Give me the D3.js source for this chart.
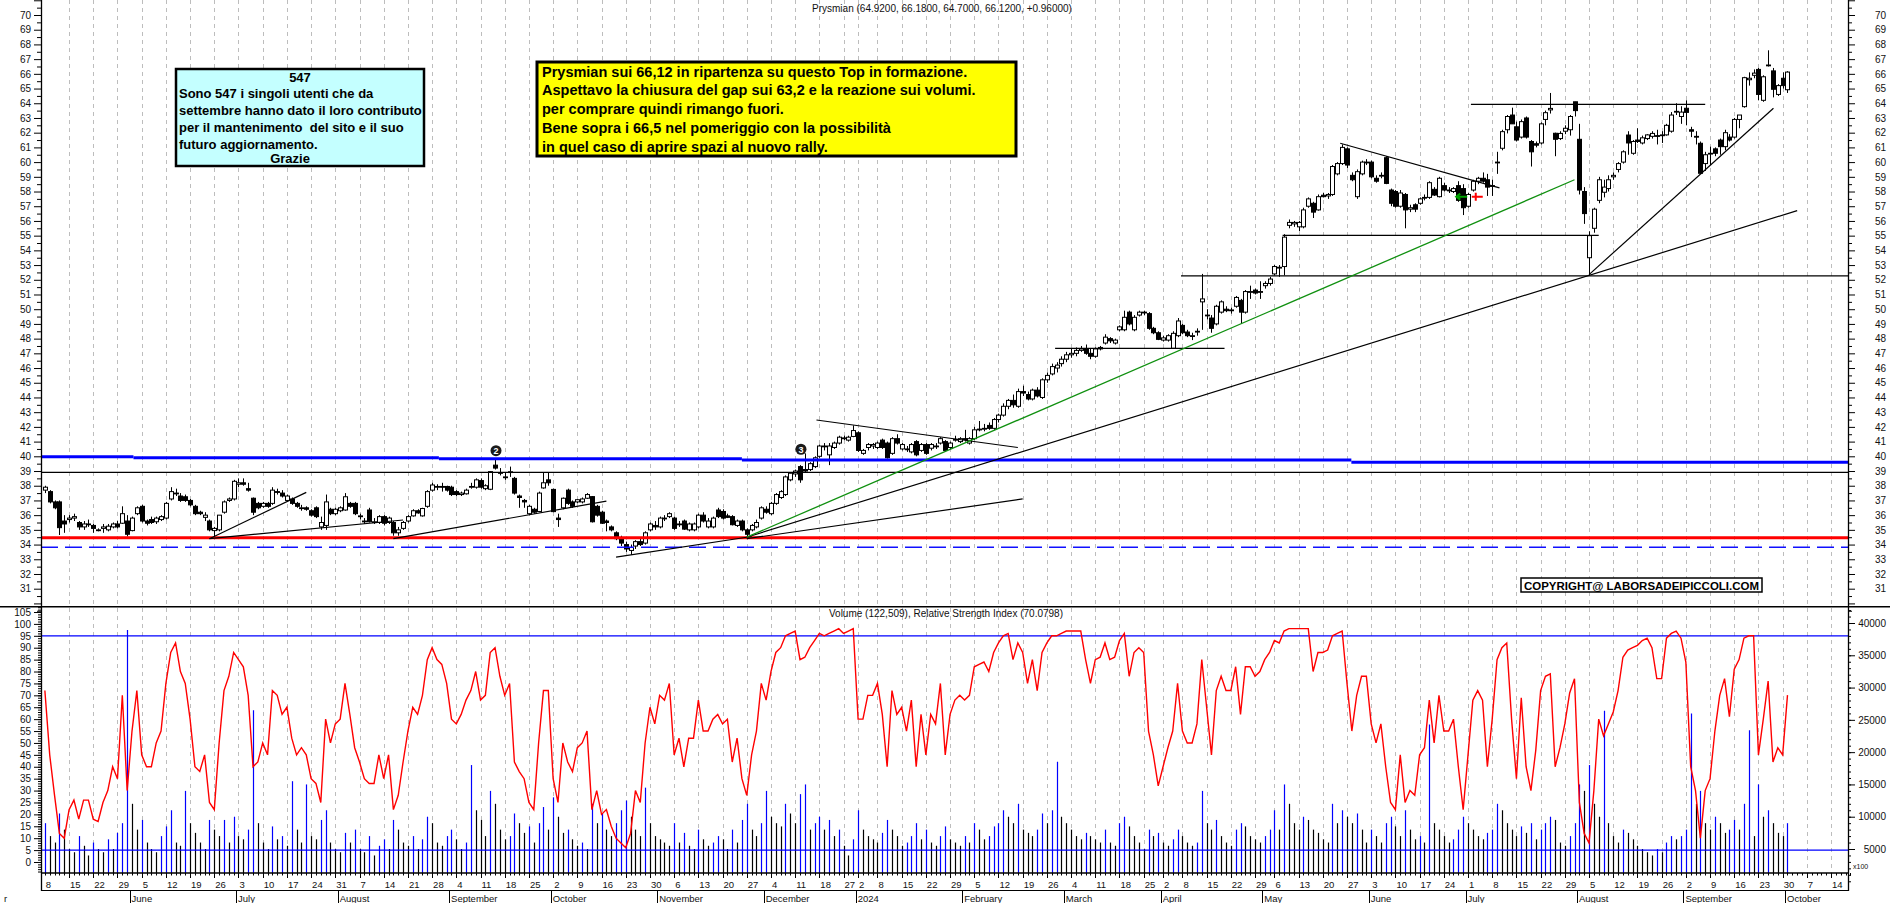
<!DOCTYPE html>
<html><head><meta charset="utf-8">
<script src="https://cdn.jsdelivr.net/npm/d3@7"></script>
<style>
body{margin:0;background:#fff;}
svg{display:block;font-family:"Liberation Sans",Arial,sans-serif;}
</style></head><body>
<svg id="chart" width="1890" height="903"></svg>
<script>
// daily candles, 8 May 2023 .. 1 Oct 2024
var opens = [
37.7,37.6,36.9,36.9,35.6,35.7,35.8,35.5,35.2,35.4, 35.3,35.0,35.1,35.0,35.2,35.4,35.45,35.6,34.95,36.1,
36.6,35.6,35.7,35.55,35.7,35.8,37.1,37.5,37.3,37.25, 37.0,36.6,36.2,35.85,35.6,34.95,35.0,36.2,37.0,37.1,
38.1,38.2,37.8,37.15,36.8,36.6,36.8,36.8,37.6,37.5, 37.0,37.1,36.8,36.45,36.5,36.3,36.5,35.2,35.3,36.4,
36.1,36.3,36.35,36.8,36.8,35.9,35.6,36.35,35.5,35.5, 35.9,35.5,35.5,34.8,35.1,35.6,35.95,36.3,35.95,36.6,
37.7,37.9,37.95,37.95,37.9,37.6,37.4,37.45,37.9,37.9, 38.35,37.8,37.76,39.4,38.9,38.6,38.9,38.5,37.3,37.0,
36.1,36.4,36.25,37.85,38.4,37.75,35.8,36.5,37.7,36.9, 36.9,36.9,37.15,37.26,36.6,36.2,35.6,35.2,34.8,34.4,
34.0,33.6,33.9,34.2,34.1,35.0,35.3,35.2,35.8,35.9, 35.8,35.4,35.6,35.0,35.0,35.2,36.0,35.2,35.2,36.35,
36.25,35.95,35.9,35.3,35.6,35.0,35.0,35.2,35.8,36.4, 36.1,36.8,37.2,37.4,38.4,38.8,39.3,39.1,39.1,39.3,
40.0,40.7,40.1,40.6,40.9,41.25,41.1,41.35,41.6,40.2, 40.6,40.7,40.6,41.1,40.9,40.2,41.2,40.5,40.5,40.3,
41.0,40.4,40.8,40.55,40.7,40.9,41.0,40.6,41.1,41.0, 41.2,40.9,41.2,41.8,41.85,42.1,41.9,42.5,42.8,43.4,
43.8,43.4,44.4,44.2,43.9,44.5,44.0,45.2,45.6,46.0, 46.3,46.6,46.9,47.0,47.2,47.3,47.0,46.8,47.3,47.7,
48.0,47.7,48.6,48.6,49.8,48.6,49.6,49.8,49.7,48.7, 48.4,47.9,47.9,47.34,48.2,48.9,48.45,48.2,48.5,50.5,
49.6,49.4,49.0,49.8,50.0,49.9,50.2,50.6,49.8,51.2, 51.3,51.2,51.6,51.75,52.4,52.8,52.9,55.7,55.8,55.6,
55.6,57.0,57.2,56.75,57.75,57.7,57.8,59.2,59.9,60.9, 59.1,57.65,59.2,60.0,60.0,58.9,59.1,60.3,58.1,58.0,
57.0,57.8,56.8,57.1,57.2,57.6,57.6,58.15,57.65,58.4, 58.1,58.0,58.4,58.2,57.0,58.1,58.7,58.9,58.8,58.4,
60.0,60.94,62.2,63.2,62.4,61.7,63.0,61.4,61.25,61.3, 62.9,63.55,61.96,61.6,62.1,62.2,64.1,61.55,58.0,53.5,
55.5,57.4,57.95,58.2,59.0,59.5,60.0,61.84,60.6,61.5, 61.3,61.6,61.75,61.8,61.85,61.85,62.1,63.4,63.1,63.66,
62.2,61.75,61.28,59.9,60.6,60.9,61.5,61.05,61.7,61.7, 62.9,63.77,65.6,65.9,66.3,64.2,66.55,66.2,64.6,65.7,
64.92];
var highs = [
38.0,37.7,37.0,37.0,36.0,36.0,36.1,35.6,35.6,35.7, 35.4,35.1,35.4,35.4,35.5,35.6,36.6,36.0,35.9,36.6,
36.7,35.7,35.9,35.9,36.0,36.9,37.9,37.8,37.5,37.4, 37.1,36.7,36.3,36.2,35.7,35.2,36.0,37.0,37.2,38.4,
38.5,38.5,38.2,37.2,36.9,36.9,36.9,37.9,37.8,37.7, 37.4,37.2,36.9,36.7,36.6,36.4,36.6,35.9,37.4,36.5,
36.5,36.6,37.5,36.9,36.9,36.1,35.8,36.5,35.8,36.0, 36.0,35.9,35.6,35.2,35.6,36.0,36.4,36.4,36.5,37.7,
38.2,38.1,38.2,38.0,38.0,37.7,37.6,37.8,38.2,38.5, 38.5,38.1,39.0,39.75,39.2,38.9,39.3,38.6,37.4,37.1,
36.7,36.5,37.6,38.9,38.9,37.8,36.1,37.2,37.8,37.0, 37.1,37.2,37.5,37.3,36.7,36.3,35.7,35.3,34.9,34.6,
34.2,34.0,34.3,34.5,34.9,35.5,35.6,35.9,36.0,36.2, 35.9,35.6,35.7,35.5,35.5,36.1,36.2,35.8,35.9,36.5,
36.4,36.1,36.0,35.7,35.7,35.1,35.4,35.7,36.6,36.6, 36.9,37.5,37.7,38.7,38.9,39.1,39.4,40.2,39.6,40.0,
40.8,40.9,40.9,41.0,41.4,41.4,41.4,42.1,41.7,40.5, 40.9,40.9,41.0,41.2,41.0,41.3,41.5,40.9,40.7,40.9,
41.1,40.9,40.9,40.9,40.9,41.3,41.1,41.0,41.4,41.3, 41.8,41.3,42.0,42.4,42.2,42.3,42.6,42.9,43.6,43.9,
44.2,44.6,44.8,44.4,44.6,44.7,45.3,45.7,46.3,46.4, 46.8,47.1,47.3,47.4,47.5,47.6,47.3,47.4,47.5,48.3,
48.1,48.0,48.9,49.9,49.9,49.6,49.9,49.9,49.8,48.8, 48.5,48.2,48.3,48.5,49.4,49.0,48.6,48.4,48.7,52.4,
50.0,49.6,50.3,50.6,50.2,50.1,50.9,50.7,51.3,51.6, 51.4,51.9,51.9,52.2,53.0,53.0,55.1,56.1,56.0,56.0,
56.9,57.6,57.3,57.8,57.9,57.9,59.8,60.0,61.2,61.0, 59.3,59.5,60.1,60.2,60.1,59.1,59.3,60.4,58.2,58.1,
58.1,57.9,57.1,57.2,57.6,57.8,58.7,58.3,59.0,58.6, 58.3,58.3,58.7,58.5,57.9,58.8,59.0,59.3,59.2,58.8,
60.7,62.2,63.2,63.7,62.75,62.9,63.1,61.5,61.4,62.7, 63.5,64.7,62.0,62.1,62.5,63.2,64.1,62.6,58.3,55.3,
56.9,59.0,58.8,59.1,59.3,60.0,60.8,62.1,61.5,62.3, 61.8,61.9,62.1,62.2,62.1,62.6,63.4,64.0,63.8,64.2,
62.4,62.1,61.4,60.7,61.05,61.0,61.6,62.2,61.9,63.0, 63.2,65.8,66.1,66.3,66.4,65.9,67.6,66.4,65.3,66.1,
66.18];
var lows = [
37.5,36.8,36.4,34.65,34.8,35.5,35.6,35.0,35.0,35.2, 34.8,34.9,34.8,34.9,35.1,35.1,35.4,34.55,34.9,36.0,
35.5,35.3,35.4,35.4,35.6,35.7,37.0,37.3,36.9,36.9, 36.6,36.0,36.0,35.6,34.9,34.5,34.9,36.1,36.9,37.0,
37.9,38.0,37.6,36.0,36.4,36.5,36.5,36.7,37.4,37.2, 36.9,36.7,36.5,36.3,36.3,35.9,35.8,35.0,35.0,36.0,
36.0,36.2,36.3,36.5,36.0,35.7,35.4,35.5,35.4,35.4, 35.3,35.4,34.6,34.6,35.0,35.5,35.9,36.1,35.9,36.5,
37.6,37.7,37.6,37.6,37.3,37.3,37.3,37.4,37.8,37.8, 37.8,37.7,37.7,39.1,38.7,38.4,38.6,37.4,36.5,36.5,
36.0,36.1,36.2,37.8,38.0,36.2,35.2,36.4,36.7,36.5, 36.8,36.8,37.1,35.5,35.9,35.4,34.9,34.9,34.3,33.9,
33.5,33.3,33.7,33.9,34.0,34.9,35.0,35.1,35.6,35.8, 35.0,35.2,35.0,34.9,34.9,35.1,35.5,35.1,35.1,35.8,
35.7,35.8,35.3,35.2,34.9,34.55,34.9,35.1,35.7,36.1, 36.0,36.7,37.1,37.3,38.3,38.6,38.2,38.9,39.0,39.2,
39.9,40.4,39.4,40.5,40.8,41.1,41.0,41.3,40.3,40.1, 40.4,40.5,40.5,40.5,39.85,40.1,40.8,40.4,40.3,40.2,
40.0,40.3,40.1,40.4,40.5,40.8,40.3,40.5,41.0,40.9, 41.0,40.8,41.1,41.7,41.7,41.8,41.8,42.3,42.7,43.2,
43.3,43.3,44.1,43.8,43.8,44.0,43.9,45.0,45.5,45.7, 46.1,46.4,46.7,46.8,47.1,46.9,46.6,46.7,47.2,47.6,
47.7,47.6,48.5,48.5,48.9,48.5,49.5,49.6,48.6,48.3, 47.9,47.8,47.8,47.3,48.1,48.3,48.1,47.9,48.2,48.6,
49.3,48.4,48.9,49.7,49.8,49.7,50.1,49.0,49.7,50.7, 51.0,50.7,51.4,51.6,52.3,52.2,52.3,55.5,55.6,55.3,
55.5,56.9,56.2,56.7,57.6,57.5,57.7,59.1,59.8,59.6, 58.7,57.5,59.1,59.8,58.9,58.6,58.9,58.5,57.0,56.9,
56.9,55.5,56.6,56.6,57.1,57.4,57.5,57.7,57.6,58.0, 57.9,57.9,57.3,56.4,56.9,58.0,58.5,58.6,57.7,57.7,
59.2,60.8,61.95,62.6,61.4,61.6,61.6,59.7,61.0,61.2, 62.5,63.3,60.4,61.5,61.9,61.8,63.1,57.8,55.8,52.3,
55.2,57.2,57.6,58.0,58.8,59.3,59.9,60.5,60.5,61.3, 61.2,61.5,61.6,61.2,61.3,61.8,62.0,63.2,62.6,62.5,
61.7,61.2,59.2,59.4,59.8,60.4,60.5,60.8,61.4,61.6, 62.3,63.7,65.2,65.7,64.2,64.1,66.5,64.4,64.5,65.0,
64.70];
var closes = [
37.9,36.9,36.5,35.15,35.4,35.8,35.9,35.2,35.4,35.4, 35.1,35.0,35.2,35.25,35.4,35.2,36.1,34.7,35.8,36.5,
35.6,35.45,35.5,35.8,35.9,36.8,37.6,37.5,37.0,37.0, 36.7,36.1,36.1,36.0,35.0,35.1,36.0,36.9,37.1,38.3,
38.2,38.1,37.7,36.2,36.5,36.8,36.6,37.7,37.55,37.3, 37.3,36.8,36.6,36.5,36.4,36.0,35.9,35.5,36.9,36.1,
36.4,36.5,37.25,36.6,36.1,35.95,35.6,35.55,35.55,35.9, 35.45,35.8,34.8,35.0,35.5,35.9,36.3,36.15,36.45,37.6,
38.05,37.95,37.9,37.7,37.4,37.4,37.5,37.7,37.95,38.4, 37.9,38.0,38.96,39.2,38.85,38.6,38.95,37.5,37.2,36.9,
36.6,36.2,37.5,38.2,38.2,36.24,35.7,37.15,36.8,36.6, 37.05,37.1,37.4,35.55,36.0,35.45,35.5,35.0,34.4,34.1,
33.7,33.8,34.2,34.0,34.8,35.4,35.2,35.8,35.75,36.1, 35.1,35.4,35.05,35.4,35.4,36.0,35.6,35.6,35.8,35.9,
35.8,35.85,35.35,35.6,35.0,34.7,35.3,35.5,36.5,36.2, 36.8,37.4,37.6,38.6,38.85,39.0,38.4,39.0,39.5,39.9,
40.7,40.65,40.7,40.9,41.3,41.2,41.3,41.75,40.4,40.4, 40.8,40.8,40.9,40.6,39.9,41.2,40.9,40.8,40.45,40.8,
40.1,40.8,40.2,40.8,40.7,41.2,40.4,40.9,41.15,41.2, 41.15,41.2,41.8,41.85,41.9,41.9,42.5,42.8,43.4,43.8,
43.5,44.4,44.3,43.9,44.5,44.1,45.2,45.5,46.1,46.2, 46.6,46.9,47.0,47.2,47.3,47.0,46.8,47.3,47.4,48.1,
47.85,47.9,48.8,49.45,49.0,49.45,49.8,49.75,48.7,48.4, 47.95,48.05,48.2,48.36,49.2,48.4,48.2,48.2,48.5,50.7,
49.6,48.7,50.2,50.5,49.9,49.95,50.8,49.8,51.2,51.2, 51.1,51.2,51.75,52.05,52.9,52.85,54.9,55.9,55.9,55.9,
56.75,57.5,56.6,57.65,57.65,57.8,59.7,59.9,61.0,59.8, 58.8,59.35,60.0,60.0,59.0,58.7,59.1,58.55,57.2,57.0,
57.9,56.75,56.9,56.8,57.5,57.6,58.6,57.76,58.9,58.1, 58.1,58.2,57.4,56.9,57.8,58.7,58.9,58.7,58.3,58.4,
60.0,62.07,63.1,62.6,61.5,62.75,61.7,60.7,61.15,62.6, 63.36,63.65,61.55,61.95,62.3,63.1,63.5,58.1,56.5,55.0,
56.8,58.8,58.3,58.8,59.1,59.9,60.7,61.3,61.4,61.4, 61.65,61.85,61.95,61.75,61.85,62.5,63.2,63.45,63.4,63.38,
62.1,61.7,59.24,60.5,60.6,60.6,61.05,62.0,61.5,62.9, 63.2,65.74,65.7,66.05,64.6,65.8,66.6,64.95,65.2,65.2,
66.12];
var volumes = [
9000,7000,6000,10500,8000,5000,4500,7000,5500,4000, 6000,5000,4500,6500,5000,7500,9000,38900,12000,8000,
9500,6000,5000,4500,7000,8500,11000,6000,5500,14000, 9000,7500,6000,5000,9500,8000,7000,9500,6000,10000,
7000,6500,8000,26500,9000,6000,5000,8500,6500,7000, 5500,15500,8000,6000,15000,7000,6500,9500,11000,6000,
5000,4500,7500,6000,8000,5000,4500,7000,4000,5500, 6500,5000,9500,8000,6000,5500,7000,5000,6500,10000,
9000,6000,5500,7000,8000,6500,5000,6000,18000,11000, 9500,7000,14000,12000,8000,6500,7000,10500,9000,7500,
8500,6000,9000,11500,8000,13000,10000,7500,8000,6500, 5500,6000,5000,12000,9000,10500,8000,7000,9000,11000,
12500,10000,8000,7000,14500,9000,7000,6500,6000,5500, 9000,6000,7500,5500,5000,8000,6500,5500,6000,7000,
6500,5000,8000,6000,9500,12000,8000,7000,9000,14000, 10000,9000,8500,12000,10500,9000,13500,15000,8000,9000,
10000,8000,9500,7000,8000,5500,4000,6500,11000,8000, 7000,6500,6000,7500,9500,8000,7000,5500,6000,7000,
9000,6500,8000,6000,5500,7000,8500,6500,6000,5500, 7000,6000,9000,8000,6500,7000,8500,9000,11000,10000,
9000,12000,8000,7500,7000,8000,10500,9000,11000,18500, 10000,9000,8000,7000,6500,7500,7000,6500,6000,8000,
6000,5500,9000,10000,8500,7000,6000,5000,8000,7000, 7500,6000,5500,6500,8000,7000,6000,5500,6000,14000,
9000,8000,9500,7000,6000,5500,8000,9000,8500,7000, 6500,6000,7000,8000,11000,8000,15000,12000,9000,8000,
10000,9500,8000,7500,6500,6000,12000,9000,11000,10000, 9000,10500,8000,6000,8000,7000,6000,9000,10000,8500,
7000,11000,8000,6500,7000,6000,24300,9000,8000,7000, 6000,6500,8000,10000,9000,8000,7000,6500,7500,8000,
12000,11000,9000,8000,7000,8500,7500,9000,6500,8000, 9000,10000,9500,6000,5500,7000,9000,15000,14000,18000,
12000,10000,26400,9000,7000,6000,8000,7500,6500,5500, 5000,4500,4000,5000,4500,6000,7000,6500,7000,8000,
26000,12000,14000,9000,8000,10000,9000,7500,8000,9500, 8000,12000,23400,7000,15000,10000,11000,9000,7500,7000,
9000];
var rsiValues = [
72,45,28,12,10,22,26,18,26,26, 18,17,25,30,40,35,70,30,55,72,
45,40,40,50,55,75,88,92,80,75, 60,40,38,45,25,22,50,72,78,88,
85,82,70,40,42,50,45,72,70,62, 65,52,45,48,45,35,33,25,60,50,
58,60,75,62,48,42,35,33,33,45, 35,45,22,28,42,55,65,62,70,85,
90,85,83,75,60,58,62,68,72,80, 68,70,88,90,78,70,75,42,38,35,
25,22,50,72,72,35,25,50,42,38, 48,50,55,22,30,20,22,15,10,8,
6,12,30,25,50,65,58,70,68,75, 45,52,40,52,52,68,55,55,60,62,
58,60,42,52,35,28,45,55,75,68, 80,88,90,95,96,97,85,86,90,93,
96,95,96,97,98,96,97,98,60,60, 70,70,75,62,40,72,62,65,55,68,
40,62,45,62,58,75,45,62,68,70, 68,70,82,83,84,80,88,92,95,96,
85,92,88,75,85,72,88,92,95,95, 96,97,97,97,97,85,75,85,86,92,
85,86,93,96,78,88,90,88,55,45, 32,40,48,55,75,55,50,50,58,85,
65,45,72,78,72,72,82,62,82,82, 78,80,85,88,93,92,97,98,98,98,
98,98,80,88,88,89,95,96,97,75, 55,70,78,78,58,50,58,40,25,22,
45,25,30,28,45,48,68,50,70,55, 55,60,40,22,45,68,72,68,40,60,
85,90,92,60,35,69,40,30,47,72, 78,79,40,48,58,71,77,25,12,8,
30,60,53,58,63,72,86,89,90,91, 93,94,90,77,77,94,96,97,94,84,
40,30,10,30,35,55,70,77,61,81, 85,94,95,95,45,60,76,42,48,45,
70.08];

var holidays = ["2023-12-25", "2023-12-26", "2024-01-01", "2024-03-29", "2024-04-01", "2024-05-01"];
var monthNames = ["January", "February", "March", "April", "May", "June", "July", "August", "September", "October", "November", "December"];
var priceTicks = d3.range(31, 71);
var rsiTicks = d3.range(0, 106, 5);
var volumeTicks = d3.range(5000, 40001, 5000);

// trend lines drawn on the chart: [index1, price1, index2, price2]
var blackLines = [
  [34, 34.4, 54, 37.55], [34, 34.4, 74, 35.67], [72, 34.4, 116, 36.95],
  [118, 33.15, 146, 34.55], [159.4, 42.47, 201, 40.6], [145, 34.5, 362, 56.7],
  [145, 34.4, 202, 37.1], [208.7, 47.34, 243.7, 47.34], [234.7, 52.26, 372.5, 52.26],
  [255.7, 55.02, 321, 55.02], [267.6, 61.28, 300.5, 58.25], [294.6, 63.93, 343, 63.93],
  [319, 52.35, 357.1, 63.66]
];
var greenLines = [[145, 34.5, 316, 58.8]];
var blueSteps = [[-0.8, 18.3, 39.973], [18.3, 81.4, 39.905], [81.4, 144, 39.837], [144, 269.9, 39.75], [269.9, 372.5, 39.6]];
var blackLevel = 38.91, redLevel = 34.47, dashLevel = 33.81;
var rsiLevels = [95, 5];
var markers = [[93.2, 40.38, "2"], [156.2, 40.48, "3"]];

var svg = d3.select("#chart");
var fmt = d3.timeFormat("%Y-%m-%d");
var days = [];
var d = new Date(2023, 4, 8);
while (days.length < 374) {
  if (d.getDay() !== 0 && d.getDay() !== 6 && holidays.indexOf(fmt(d)) < 0) days.push(d);
  d = d3.timeDay.offset(d, 1);
}

var x = d3.scaleLinear().domain([-0.8, 372.5]).range([41, 1848]);
var yP = d3.scaleLinear().domain([31, 70]).range([588.7, 15]);
var yR = d3.scaleLinear().domain([0, 105]).range([862, 612]);
var yV = d3.scaleLinear().domain([5000, 40000]).range([849, 623]);
var left = 41, right = 1848, paneSplit = 606.7, bottom = 873;
function px(i) { return Math.round(x(i)) + 0.5; }

var defs = svg.append("defs");
defs.append("clipPath").attr("id", "clipP").append("rect")
  .attr("x", left).attr("y", 0).attr("width", right - left).attr("height", paneSplit);
defs.append("clipPath").attr("id", "clipL").append("rect")
  .attr("x", left).attr("y", paneSplit + 1).attr("width", right - left).attr("height", bottom - paneSplit - 1);

// week grid
var weekStarts = [];
for (var i = 1; i < days.length; i++) {
  if (d3.timeMonday.floor(days[i]).getTime() !== d3.timeMonday.floor(days[i - 1]).getTime()) weekStarts.push(i);
}
svg.append("g").selectAll("line").data(weekStarts).enter().append("line")
  .attr("x1", px).attr("x2", px).attr("y1", 0).attr("y2", bottom)
  .attr("stroke", "#bdbdbd").attr("stroke-dasharray", "4,4");

var idx = d3.range(closes.length);

// price pane
var gP = svg.append("g").attr("clip-path", "url(#clipP)");
gP.selectAll("line.wick").data(idx).enter().append("line")
  .attr("x1", px).attr("x2", px)
  .attr("y1", function(i) { return yP(highs[i]); })
  .attr("y2", function(i) { return yP(lows[i]); })
  .attr("stroke", "#000");
gP.selectAll("rect").data(idx).enter().append("rect")
  .attr("x", function(i) { return Math.round(x(i)) - 1.5; })
  .attr("width", 4)
  .attr("y", function(i) { return yP(Math.max(opens[i], closes[i])); })
  .attr("height", function(i) { return Math.max(0.8, Math.abs(yP(opens[i]) - yP(closes[i]))); })
  .attr("fill", function(i) { return closes[i] >= opens[i] ? "#fff" : "#000"; })
  .attr("stroke", "#000").attr("stroke-width", 1);

gP.append("line").attr("x1", left).attr("x2", right).attr("y1", yP(blackLevel)).attr("y2", yP(blackLevel))
  .attr("stroke", "#000").attr("stroke-width", 1.3);
gP.append("line").attr("x1", left).attr("x2", right).attr("y1", yP(dashLevel)).attr("y2", yP(dashLevel))
  .attr("stroke", "#1010ff").attr("stroke-width", 1.5).attr("stroke-dasharray", "17,7");
gP.append("line").attr("x1", left).attr("x2", right).attr("y1", yP(redLevel)).attr("y2", yP(redLevel))
  .attr("stroke", "#ff0000").attr("stroke-width", 3);
gP.selectAll("line.blue").data(blueSteps).enter().append("line")
  .attr("x1", function(s) { return x(s[0]); }).attr("x2", function(s) { return x(s[1]); })
  .attr("y1", function(s) { return yP(s[2]); }).attr("y2", function(s) { return yP(s[2]); })
  .attr("stroke", "#0000ff").attr("stroke-width", 3);

gP.selectAll("line.tl").data(blackLines).enter().append("line")
  .attr("x1", function(l) { return x(l[0]); }).attr("y1", function(l) { return yP(l[1]); })
  .attr("x2", function(l) { return x(l[2]); }).attr("y2", function(l) { return yP(l[3]); })
  .attr("stroke", "#000").attr("stroke-width", 1.2);
gP.selectAll("line.gl").data(greenLines).enter().append("line")
  .attr("x1", function(l) { return x(l[0]); }).attr("y1", function(l) { return yP(l[1]); })
  .attr("x2", function(l) { return x(l[2]); }).attr("y2", function(l) { return yP(l[3]); })
  .attr("stroke", "#109010").attr("stroke-width", 1.3);

var mk = gP.selectAll("g.mk").data(markers).enter().append("g")
  .attr("transform", function(m) { return "translate(" + x(m[0]) + "," + yP(m[1]) + ")"; });
mk.append("circle").attr("r", 5.5).attr("fill", "#1a1a1a");
mk.append("text").attr("y", 3.5).attr("text-anchor", "middle").attr("font-size", 9).attr("font-weight", "bold")
  .attr("fill", "#fff").text(function(m) { return m[2]; });

// small buy / sell arrows
var ay = yP(57.65);
gP.append("path").attr("d", "M" + (x(292.6) + 6) + "," + ay + "H" + (x(292.6) - 4) + "M" + (x(292.6) - 1) + "," + (ay - 3) + "L" + (x(292.6) - 5) + "," + ay + "L" + (x(292.6) - 1) + "," + (ay + 3))
  .attr("stroke", "#00a000").attr("stroke-width", 2).attr("fill", "none");
gP.append("path").attr("d", "M" + (x(295.6) - 4) + "," + ay + "H" + (x(295.6) + 7) + "M" + x(295.6) + "," + (ay - 4) + "V" + (ay + 4))
  .attr("stroke", "#ff0000").attr("stroke-width", 2).attr("fill", "none");

// lower pane
var gL = svg.append("g").attr("clip-path", "url(#clipL)");
gL.selectAll("line.vol").data(idx).enter().append("line")
  .attr("x1", px).attr("x2", px).attr("y1", bottom).attr("y2", function(i) { return yV(volumes[i]); })
  .attr("stroke", function(i) { return (i === 0 || volumes[i] >= volumes[i - 1]) ? "#0000ff" : "#000"; })
  .attr("stroke-width", 1.2);
gL.selectAll("line.lvl").data(rsiLevels).enter().append("line")
  .attr("x1", left).attr("x2", right).attr("y1", yR).attr("y2", yR)
  .attr("stroke", "#0000ff").attr("stroke-width", 1.2);
gL.append("path").datum(idx)
  .attr("d", d3.line().x(function(i) { return x(i); }).y(function(i) { return yR(rsiValues[i]); }))
  .attr("fill", "none").attr("stroke", "#ff0000").attr("stroke-width", 1.4);

// frames
svg.append("line").attr("x1", 0).attr("x2", 1890).attr("y1", paneSplit).attr("y2", paneSplit).attr("stroke", "#000").attr("stroke-width", 1.5);
svg.append("line").attr("x1", left).attr("x2", right).attr("y1", bottom).attr("y2", bottom).attr("stroke", "#000").attr("stroke-width", 1.5);
svg.append("line").attr("x1", left).attr("x2", right).attr("y1", 890.5).attr("y2", 890.5).attr("stroke", "#000");
svg.append("line").attr("x1", left + 0.5).attr("x2", left + 0.5).attr("y1", 0).attr("y2", 891).attr("stroke", "#000").attr("stroke-width", 1.3);
svg.append("line").attr("x1", right + 0.5).attr("x2", right + 0.5).attr("y1", 0).attr("y2", 891).attr("stroke", "#000").attr("stroke-width", 1.3);

function styleAxis(g, anchorX) {
  g.select(".domain").remove();
  g.selectAll("text").attr("font-family", "Liberation Sans, Arial, sans-serif").attr("font-size", 10).attr("fill", "#111");
  if (anchorX !== undefined) g.selectAll("text").attr("x", anchorX).attr("text-anchor", "end");
}
var gA;
gA = svg.append("g").attr("transform", "translate(" + left + ",0)")
  .call(d3.axisLeft(yP).tickValues(d3.range(30, 72)).tickSize(7).tickPadding(3)
    .tickFormat(function(v) { return priceTicks.indexOf(v) >= 0 ? v : ""; }));
styleAxis(gA);
gA = svg.append("g").attr("transform", "translate(" + left + ",0)")
  .call(d3.axisLeft(yP).tickValues(d3.range(29.5, 71, 1)).tickSize(4).tickFormat(""));
styleAxis(gA);
gA = svg.append("g").attr("transform", "translate(" + left + ",0)")
  .call(d3.axisLeft(yR).tickValues(rsiTicks).tickSize(7).tickPadding(3));
styleAxis(gA);
gA = svg.append("g").attr("transform", "translate(" + left + ",0)")
  .call(d3.axisLeft(yR).tickValues(d3.range(-4, 108, 1)).tickSize(3).tickFormat(""));
styleAxis(gA);
gA = svg.append("g").attr("transform", "translate(" + right + ",0)")
  .call(d3.axisRight(yP).tickValues(d3.range(30, 72)).tickSize(7)
    .tickFormat(function(v) { return priceTicks.indexOf(v) >= 0 ? v : ""; }));
styleAxis(gA, 38);
gA = svg.append("g").attr("transform", "translate(" + right + ",0)")
  .call(d3.axisRight(yP).tickValues(d3.range(29.5, 71, 1)).tickSize(4).tickFormat(""));
styleAxis(gA);
gA = svg.append("g").attr("transform", "translate(" + right + ",0)")
  .call(d3.axisRight(yV).tickValues(volumeTicks).tickSize(7).tickFormat(d3.format("d")));
styleAxis(gA, 38);
gA = svg.append("g").attr("transform", "translate(" + right + ",0)")
  .call(d3.axisRight(yV).tickValues(d3.range(0, 42001, 1000)).tickSize(3).tickFormat(""));
styleAxis(gA);
svg.append("text").attr("x", 1853).attr("y", 869).attr("font-size", 7).attr("fill", "#111").text("x100");

// date axis
svg.append("g").selectAll("line").data(d3.range(days.length)).enter().append("line")
  .attr("x1", px).attr("x2", px).attr("y1", bottom).attr("y2", function(i) { return weekStarts.indexOf(i) >= 0 ? bottom + 5 : bottom + 2.5; })
  .attr("stroke", "#000");
var dayLabels = [0].concat(weekStarts), lastX = -99, shown = [];
dayLabels.forEach(function(i) { if (x(i) - lastX >= 12) { shown.push(i); lastX = x(i); } });
svg.append("g").selectAll("text").data(shown).enter().append("text")
  .attr("x", function(i) { return x(i) + 1; }).attr("y", 887.5)
  .attr("font-size", 9.5).attr("fill", "#111")
  .text(function(i) { return days[i].getDate(); });
var monthStarts = [];
for (var j = 1; j < days.length; j++) if (days[j].getMonth() !== days[j - 1].getMonth()) monthStarts.push(j);
svg.append("g").selectAll("line").data(monthStarts).enter().append("line")
  .attr("x1", function(i) { return Math.round(x(i - 0.5)) + 0.5; }).attr("x2", function(i) { return Math.round(x(i - 0.5)) + 0.5; })
  .attr("y1", 891).attr("y2", 903).attr("stroke", "#000");
svg.append("g").selectAll("text").data(monthStarts).enter().append("text")
  .attr("x", function(i) { return x(i - 0.5) + 2; }).attr("y", 901.5)
  .attr("font-size", 9.5).attr("fill", "#111")
  .text(function(i) { return days[i].getMonth() === 0 ? days[i].getFullYear() : monthNames[days[i].getMonth()]; });
svg.append("text").attr("x", 4).attr("y", 901.5).attr("font-size", 9.5).attr("fill", "#111").text("r");

// titles
svg.append("text").attr("x", 942).attr("y", 11.5).attr("text-anchor", "middle").attr("font-size", 10).attr("fill", "#111")
  .text("Prysmian (64.9200, 66.1800, 64.7000, 66.1200, +0.96000)");
svg.append("text").attr("x", 946).attr("y", 617).attr("text-anchor", "middle").attr("font-size", 10).attr("fill", "#111")
  .text("Volume (122,509), Relative Strength Index (70.0798)");

// note boxes
var cyanLines = ["Sono 547 i singoli utenti che da", "settembre hanno dato il loro contributo", "per il mantenimento  del sito e il suo", "futuro aggiornamento."];
svg.append("rect").attr("x", 176).attr("y", 69).attr("width", 248).attr("height", 97)
  .attr("fill", "#c4ffff").attr("stroke", "#000").attr("stroke-width", 2.5);
svg.append("text").attr("x", 300).attr("y", 82).attr("text-anchor", "middle").attr("font-size", 13).attr("font-weight", "bold").text("547");
svg.append("g").selectAll("text").data(cyanLines).enter().append("text")
  .attr("x", 179).attr("y", function(t, k) { return 98 + k * 17; })
  .attr("font-size", 13).attr("font-weight", "bold").style("white-space", "pre").text(function(t) { return t; });
svg.append("text").attr("x", 290).attr("y", 163).attr("text-anchor", "middle").attr("font-size", 13).attr("font-weight", "bold").text("Grazie");

var yellowLines = ["Prysmian sui 66,12 in ripartenza su questo Top in formazione.",
  "Aspettavo la chiusura del gap sui 63,2 e la reazione sui volumi.",
  "per comprare quindi rimango fuori.",
  "Bene sopra i 66,5 nel pomeriggio con la possibilità",
  "in quel caso di aprire spazi al nuovo rally."];
svg.append("rect").attr("x", 537).attr("y", 62).attr("width", 479).attr("height", 94)
  .attr("fill", "#ffff00").attr("stroke", "#000").attr("stroke-width", 3);
svg.append("g").selectAll("text").data(yellowLines).enter().append("text")
  .attr("x", 542).attr("y", function(t, k) { return 76.5 + k * 18.8; })
  .attr("font-size", 14.5).attr("font-weight", "bold").text(function(t) { return t; });

svg.append("rect").attr("x", 1521).attr("y", 578).attr("width", 241).attr("height", 14)
  .attr("fill", "#fff").attr("stroke", "#000").attr("stroke-width", 1.5);
svg.append("text").attr("x", 1524).attr("y", 589.5).attr("font-size", 11).attr("font-weight", "bold")
  .attr("textLength", 235).attr("lengthAdjust", "spacingAndGlyphs").text("COPYRIGHT@ LABORSADEIPICCOLI.COM");
</script>
</body></html>
